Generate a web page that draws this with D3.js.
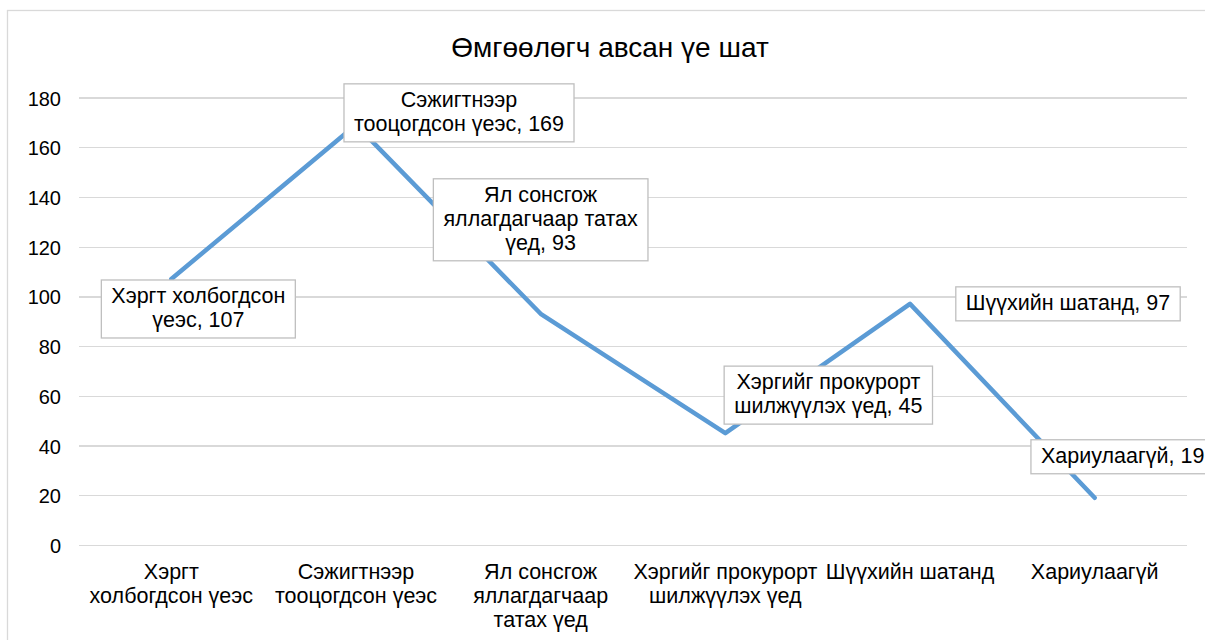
<!DOCTYPE html>
<meta charset="utf-8">
<html>
<head>
<style>
body { margin: 0; background: #fff; }
text { font-family: "Liberation Sans", Arial, sans-serif; fill: #000; }
.grid line { stroke: #d9d9d9; stroke-width: 1.3; shape-rendering: crispEdges; }
.grid path { display: none; }
.lbl rect { fill: #fff; stroke: #bfbfbf; stroke-width: 1.3; }
</style>
<script src="https://d3js.org/d3.v7.min.js"></script>
</head>
<body>
<svg width="1205" height="640"></svg>
<script>
// data
var title = "Өмгөөлөгч авсан үе шат";
var categories = [
  ["Хэргт", "холбогдсон үеэс"],
  ["Сэжигтнээр", "тооцогдсон үеэс"],
  ["Ял сонсгож", "яллагдагчаар", "татах үед"],
  ["Хэргийг прокурорт", "шилжүүлэх үед"],
  ["Шүүхийн шатанд"],
  ["Хариулаагүй"]
];
var values = [107, 169, 93, 45, 97, 19];
var yTicks = [0, 20, 40, 60, 80, 100, 120, 140, 160, 180];
// data label text, wrapped like the original; the value is added to the last line
var labelLines = [
  ["Хэргт холбогдсон", "үеэс"],
  ["Сэжигтнээр", "тооцогдсон үеэс"],
  ["Ял сонсгож", "яллагдагчаар татах", "үед"],
  ["Хэргийг прокурорт", "шилжүүлэх үед"],
  ["Шүүхийн шатанд"],
  ["Хариулаагүй"]
];

// layout: where each label box sits relative to its point (box centre, px)
var labelOffset = [[27, 30], [103, -12], [0, -94], [103, -38], [158, 0], [28, -41]];

var svg = d3.select("svg");
var mLeft = 79, mRight = 1187, mTop = 97.5, mBottom = 545;
var fs = 21.5;

svg.append("rect")
    .attr("x", 7.5).attr("y", 10.5)
    .attr("width", 1210).attr("height", 650)
    .attr("fill", "none").attr("stroke", "#d9d9d9").attr("stroke-width", 1.3);

var x = d3.scaleBand().domain(d3.range(values.length)).range([mLeft, mRight]);
var y = d3.scaleLinear().domain([0, 180]).range([mBottom, mTop]);

svg.append("g")
    .attr("class", "grid")
    .attr("transform", "translate(" + mLeft + ",0)")
    .call(d3.axisLeft(y).tickValues(yTicks).tickSize(-(mRight - mLeft)).tickFormat(""));

// y labels
svg.selectAll(".ytick")
  .data(yTicks)
  .enter().append("text")
    .attr("x", 61)
    .attr("y", function(d) { return y(d) + 8; })
    .attr("text-anchor", "end")
    .style("font-size", "20px")
    .text(function(d) { return d; });

// category labels
var cat = svg.selectAll(".cat")
  .data(categories)
  .enter().append("text")
    .attr("text-anchor", "middle")
    .style("font-size", fs + "px");
cat.selectAll("tspan")
  .data(function(d, i) { return d.map(function(s) { return {s: s, i: i}; }); })
  .enter().append("tspan")
    .attr("x", function(d) { return x(d.i) + x.bandwidth() / 2; })
    .attr("y", function(d, j) { return 579 + j * 24; })
    .text(function(d) { return d.s; });

// title
svg.append("text")
    .attr("x", 610).attr("y", 57)
    .attr("text-anchor", "middle")
    .style("font-size", "28px")
    .text(title);

var line = d3.line()
    .x(function(d, i) { return x(i) + x.bandwidth() / 2; })
    .y(function(d) { return y(d); });

svg.append("path")
    .datum(values)
    .attr("d", line)
    .attr("fill", "none")
    .attr("stroke", "#5b9bd5")
    .attr("stroke-width", 4.5)
    .attr("stroke-linecap", "round")
    .attr("stroke-linejoin", "round");

// data label boxes
values.forEach(function(v, i) {
  var lines = labelLines[i].slice();
  lines[lines.length - 1] += ", " + v;
  var cx = x(i) + x.bandwidth() / 2 + labelOffset[i][0],
      cy = y(v) + labelOffset[i][1];
  var g = svg.append("g").attr("class", "lbl");
  var rect = g.append("rect");
  var t = g.append("text")
      .attr("text-anchor", "middle")
      .style("font-size", fs + "px");
  var h = lines.length * 24 + 10;
  lines.forEach(function(s, j) {
    t.append("tspan")
      .attr("x", cx)
      .attr("y", cy - h / 2 + 23 + j * 24)
      .text(s);
  });
  var w = t.node().getBBox().width + 20;
  rect.attr("x", cx - w / 2).attr("y", cy - h / 2)
      .attr("width", w).attr("height", h);
});
</script>
</body>
</html>
